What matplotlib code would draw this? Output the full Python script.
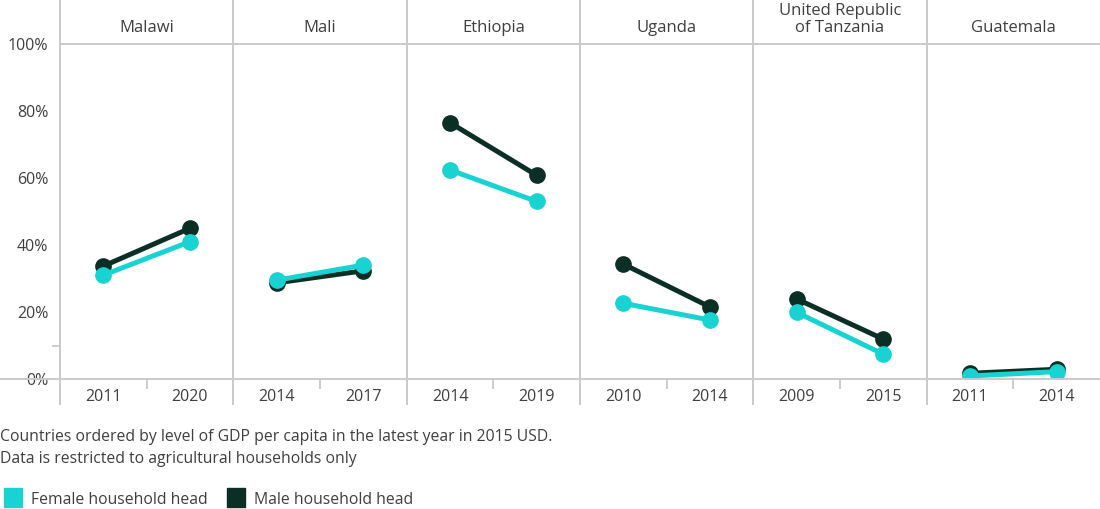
import matplotlib
matplotlib.use("Agg")
import matplotlib.pyplot as plt
from matplotlib.lines import Line2D
from matplotlib.patches import Rectangle

plt.rcParams['font.family'] = ['Open Sans', 'DejaVu Sans']

countries = ['Malawi', 'Mali', 'Ethiopia', 'Uganda', 'United Republic\nof Tanzania', 'Guatemala']
years = [('2011', '2020'), ('2014', '2017'), ('2014', '2019'),
         ('2010', '2014'), ('2009', '2015'), ('2011', '2014')]
female = [(31.0, 41.0), (29.5, 34.0), (62.4, 53.0), (22.6, 17.6), (19.9, 7.4), (0.9, 2.2)]
male = [(33.7, 45.0), (28.7, 32.3), (76.5, 60.8), (34.3, 21.5), (23.9, 11.9), (1.7, 2.9)]

c_female = '#19d3d3'
c_male = '#0c2f25'
grid_c = '#c9c9c9'
txt_c = '#3f3f3f'

W, H = 1100, 509
fig = plt.figure(figsize=(W / 100, H / 100), dpi=100)

def fx(px):
    return px / W

def fy(py):
    return 1 - py / H

left0, top, bottom = 60, 44, 379
pw = (W - left0) / len(countries)

for i, name in enumerate(countries):
    x0 = left0 + i * pw
    ax = fig.add_axes([fx(x0), fy(bottom), pw / W, (bottom - top) / H])
    ax.set_xlim(0, 4)
    ax.set_ylim(0, 100)
    for s in ax.spines.values():
        s.set_visible(False)
    ax.plot([1, 3], male[i], color=c_male, lw=3.6, marker='o', ms=11, zorder=3)
    ax.plot([1, 3], female[i], color=c_female, lw=3.6, marker='o', ms=11, zorder=4)
    ax.set_xticks([1, 3])
    ax.set_xticklabels(years[i], fontsize=11.5, color=txt_c)
    ax.set_xticks([2], minor=True)
    ax.tick_params(axis='x', which='major', length=0, pad=7)
    ax.tick_params(axis='x', which='minor', length=7, width=1.3, color=grid_c)
    if i == 0:
        ax.set_yticks([0, 20, 40, 60, 80, 100])
        ax.set_yticklabels(['0%', '20%', '40%', '60%', '80%', '100%'], fontsize=11.5, color=txt_c)
        ax.set_yticks([10, 20, 40, 60, 80], minor=True)
        ax.tick_params(axis='y', which='major', length=0, pad=8.5)
        ax.tick_params(axis='y', which='minor', length=6, width=1.3, color=grid_c)
    else:
        ax.set_yticks([])
    fig.text(fx(x0 + pw / 2), fy(36), name, ha='center', va='bottom',
             fontsize=12, color=txt_c, linespacing=1.12)
    # panel separators
    fig.add_artist(Line2D([fx(x0), fx(x0)], [fy(0), fy(404)], color=grid_c, lw=1.4))

# header and baseline
fig.add_artist(Line2D([fx(left0), fx(W)], [fy(top), fy(top)], color=grid_c, lw=1.4))
fig.add_artist(Line2D([fx(0), fx(W)], [fy(bottom), fy(bottom)], color=grid_c, lw=1.4))

fig.text(fx(0), fy(437), 'Countries ordered by level of GDP per capita in the latest year in 2015 USD.',
         ha='left', va='center', fontsize=11.3, color=txt_c)
fig.text(fx(0), fy(459), 'Data is restricted to agricultural households only',
         ha='left', va='center', fontsize=11.3, color=txt_c)

for lx, col, lab in [(4, c_female, 'Female household head'), (227, c_male, 'Male household head')]:
    fig.add_artist(Rectangle((fx(lx), fy(507)), 18 / W, 19 / H, color=col, transform=fig.transFigure))
    fig.text(fx(lx + 27), fy(500), lab, ha='left', va='center', fontsize=11.3, color=txt_c)

fig.savefig('out.png', dpi=100)
